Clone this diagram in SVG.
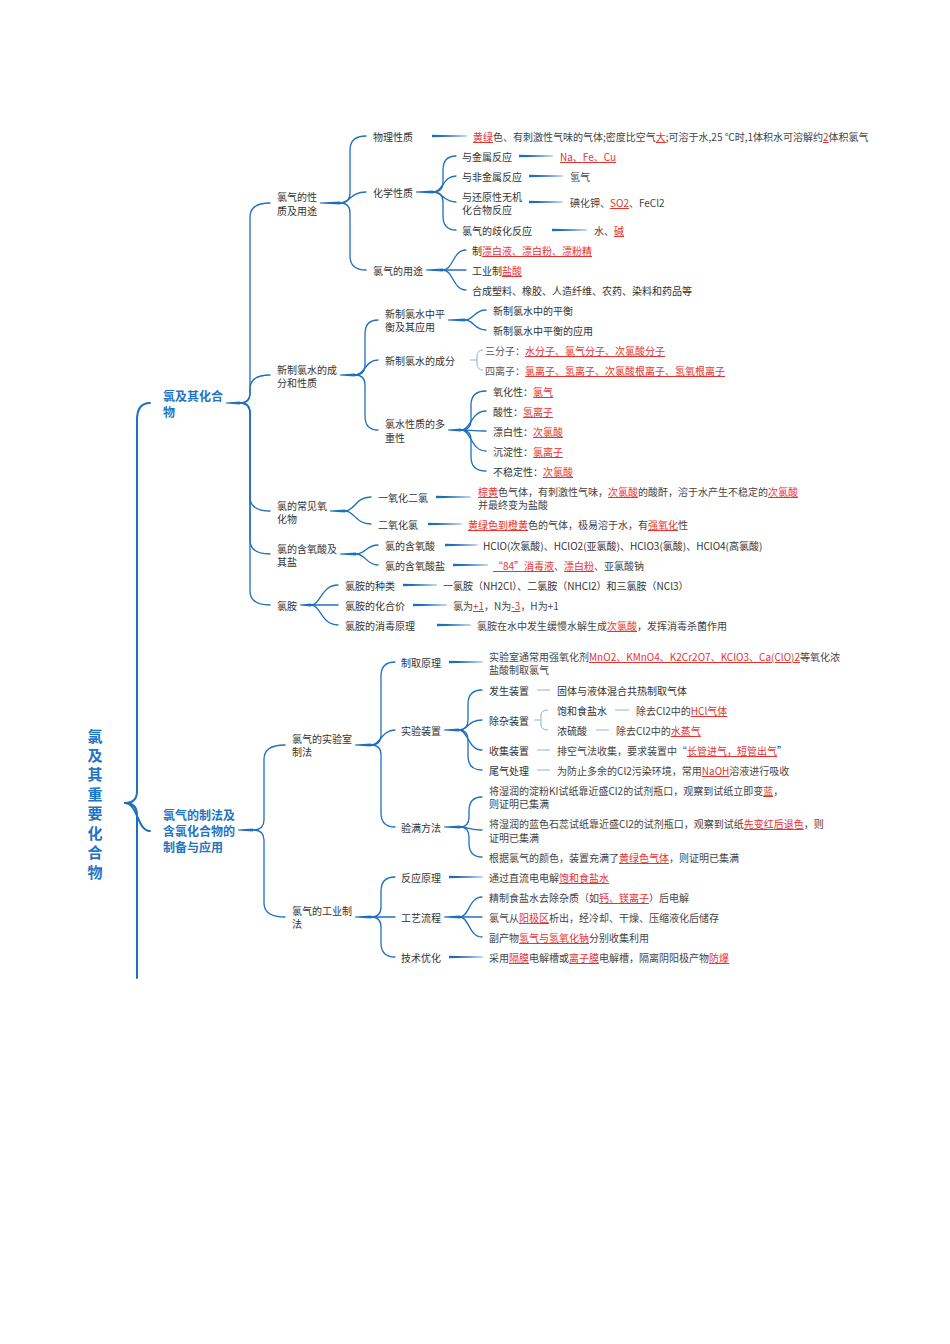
<svg xmlns="http://www.w3.org/2000/svg" width="950" height="1344" viewBox="0 0 950 1344">
<style>
text{font-family:"Noto Sans CJK SC","Noto Sans",sans-serif;font-size:10px;fill:#333;dominant-baseline:central}
.lf{fill:#444}
.g{fill:#555}
.r{fill:#e8322e;text-decoration:underline}
.h1{font-size:12px;font-weight:bold;fill:#1f74c4}
.rt{font-size:15px;font-weight:bold;fill:#1f74c4;text-anchor:middle}
.c{fill:none;stroke:#1f6fbf;stroke-width:1.3;stroke-linecap:round}
.c2{fill:none;stroke:#1f6fbf;stroke-width:2;stroke-linecap:round}
.tp{fill:#1f6fbf}
.lt{fill:none;stroke:#8fb4d8;stroke-width:1}
</style>
<rect width="950" height="1344" fill="#fff"/>
<g id="connectors">
<path class="c2" d="M125 803 Q137 803 137 791 L137 420 Q137 403 150 403"/>
<path class="c2" d="M125 803 C138 803 137 831 150 831"/>
<path class="c2" d="M125 803 Q137 803 137 815 L137 978"/>
<polygon class="tp" points="226,402.5 240,401.4 240,404.6 226,403.5"/>
<path class="c" d="M240 403 Q250 403 250 393 L250 217 Q250 203 270 203"/>
<path class="c" d="M240 403 Q250 403 250 393 L250 389 Q250 375 270 375"/>
<path class="c" d="M240 403 Q250 403 250 413 L250 497 Q250 511 270 511"/>
<path class="c" d="M240 403 Q250 403 250 413 L250 540 Q250 554 270 554"/>
<path class="c" d="M240 403 Q250 403 250 413 L250 591 Q250 605 270 605"/>
<polygon class="tp" points="320,202.5 340,201.4 340,204.6 320,203.5"/>
<path class="c" d="M340 203 Q350 203 350 193 L350 150 Q350 136 366 136"/>
<path class="c" d="M340 203 C350 203 350 192 366 192"/>
<path class="c" d="M340 203 Q350 203 350 213 L350 256 Q350 270 366 270"/>
<polygon class="tp" points="432,134.8 467,135.7 467,136.3 432,137.2"/>
<polygon class="tp" points="416,191.5 433,190.4 433,193.6 416,192.5"/>
<path class="c" d="M433 192 Q443 192 443 182 L443 170 Q443 156 456 156"/>
<path class="c" d="M433 192 C443 192 443 176 456 176"/>
<path class="c" d="M433 192 C443 192 443 202 456 202"/>
<path class="c" d="M433 192 Q443 192 443 202 L443 216 Q443 230 456 230"/>
<polygon class="tp" points="519,154.8 553,155.7 553,156.3 519,157.2"/>
<polygon class="tp" points="529,174.8 563,175.7 563,176.3 529,177.2"/>
<polygon class="tp" points="529,200.8 563,201.7 563,202.3 529,203.2"/>
<polygon class="tp" points="552,228.8 587,229.7 587,230.3 552,231.2"/>
<polygon class="tp" points="426,269.5 443,268.4 443,271.6 426,270.5"/>
<path class="c" d="M443 270 C453 270 453 250 466 250"/>
<path class="c" d="M443 270 L466 270"/>
<path class="c" d="M443 270 C453 270 453 290 466 290"/>
<polygon class="tp" points="340,374.5 355,373.4 355,376.6 340,375.5"/>
<path class="c" d="M355 375 Q365 375 365 365 L365 334 Q365 320 378 320"/>
<path class="c" d="M355 375 C365 375 365 360 378 360"/>
<path class="c" d="M355 375 Q365 375 365 385 L365 416 Q365 430 378 430"/>
<polygon class="tp" points="448,319.5 465,318.4 465,321.6 448,320.5"/>
<path class="c" d="M465 320 C474 320 474 310 486 310"/>
<path class="c" d="M465 320 C474 320 474 330 486 330"/>
<path class="lt" d="M470 360 H477 M483 350 Q477 350 477 356 V364 Q477 370 483 370"/>
<polygon class="tp" points="448,429.5 461,428.4 461,431.6 448,430.5"/>
<path class="c" d="M461 430 Q471 430 471 420 L471 405 Q471 391 486 391"/>
<path class="c" d="M461 430 C471 430 471 411 486 411"/>
<path class="c" d="M461 430 C471 430 471 431 486 431"/>
<path class="c" d="M461 430 C471 430 471 451 486 451"/>
<path class="c" d="M461 430 Q471 430 471 440 L471 457 Q471 471 486 471"/>
<polygon class="tp" points="330,510.5 345,509.4 345,512.6 330,511.5"/>
<path class="c" d="M345 511 C355 511 355 497 371 497"/>
<path class="c" d="M345 511 C355 511 355 524 371 524"/>
<polygon class="tp" points="436,495.8 471,496.7 471,497.3 436,498.2"/>
<polygon class="tp" points="428,522.8 462,523.7 462,524.3 428,525.2"/>
<polygon class="tp" points="340,553.5 356,552.4 356,555.6 340,554.5"/>
<path class="c" d="M356 554 C366 554 366 545 378 545"/>
<path class="c" d="M356 554 C366 554 366 565 378 565"/>
<polygon class="tp" points="445,543.8 478,544.7 478,545.3 445,546.2"/>
<polygon class="tp" points="453,563.8 488,564.7 488,565.3 453,566.2"/>
<polygon class="tp" points="300,604.5 311,603.4 311,606.6 300,605.5"/>
<path class="c" d="M311 605 C321 605 321 585 338 585"/>
<path class="c" d="M311 605 L338 605"/>
<path class="c" d="M311 605 C321 605 321 625 338 625"/>
<polygon class="tp" points="403,583.8 437,584.7 437,585.3 403,586.2"/>
<polygon class="tp" points="413,603.8 447,604.7 447,605.3 413,606.2"/>
<polygon class="tp" points="437,623.8 471,624.7 471,625.3 437,626.2"/>
<polygon class="tp" points="238,829.5 253,828.4 253,831.6 238,830.5"/>
<path class="c" d="M253 830 Q264 830 264 820 L264 759 Q264 745 285 745"/>
<path class="c" d="M253 830 Q264 830 264 840 L264 903 Q264 917 285 917"/>
<polygon class="tp" points="355,744.5 371,743.4 371,746.6 355,745.5"/>
<path class="c" d="M371 745 Q381 745 381 735 L381 676 Q381 662 395 662"/>
<path class="c" d="M371 745 C381 745 381 730 395 730"/>
<path class="c" d="M371 745 Q381 745 381 755 L381 813 Q381 827 395 827"/>
<polygon class="tp" points="449,660.8 483,661.7 483,662.3 449,663.2"/>
<polygon class="tp" points="444,729.5 459,728.4 459,731.6 444,730.5"/>
<path class="c" d="M459 730 Q468 730 468 720 L468 704 Q468 690 482 690"/>
<path class="c" d="M459 730 C468 730 468 720 482 720"/>
<path class="c" d="M459 730 C468 730 468 750 482 750"/>
<path class="c" d="M459 730 Q468 730 468 740 L468 756 Q468 770 482 770"/>
<path class="lt" d="M537 690 H550 M537 750 H550 M537 770 H550"/>
<path class="lt" d="M534 720 H541 M548 710 Q541 710 541 715 V725 Q541 730 548 730"/>
<path class="lt" d="M615 710 H629 M596 730 H609"/>
<polygon class="tp" points="444,826.5 460,825.4 460,828.6 444,827.5"/>
<path class="c" d="M460 827 Q469 827 469 817 L469 811 Q469 797 482 797"/>
<path class="c" d="M460 827 C469 827 469 830 482 830"/>
<path class="c" d="M460 827 Q469 827 469 837 L469 843 Q469 857 482 857"/>
<polygon class="tp" points="355,916.5 371,915.4 371,918.6 355,917.5"/>
<path class="c" d="M371 917 Q381 917 381 907 L381 891 Q381 877 395 877"/>
<path class="c" d="M371 917 L395 917"/>
<path class="c" d="M371 917 Q381 917 381 927 L381 943 Q381 957 395 957"/>
<polygon class="tp" points="449,875.8 483,876.7 483,877.3 449,878.2"/>
<polygon class="tp" points="449,955.8 483,956.7 483,957.3 449,958.2"/>
<polygon class="tp" points="444,916.5 460,915.4 460,918.6 444,917.5"/>
<path class="c" d="M460 917 C469 917 469 897 482 897"/>
<path class="c" d="M460 917 L482 917"/>
<path class="c" d="M460 917 C469 917 469 937 482 937"/>
</g>
<g id="root"><text class="rt"><tspan x="95" y="735">氯</tspan><tspan x="95" y="754">及</tspan><tspan x="95" y="773">其</tspan><tspan x="95" y="793">重</tspan><tspan x="95" y="812">要</tspan><tspan x="95" y="832">化</tspan><tspan x="95" y="851">合</tspan><tspan x="95" y="871">物</tspan></text></g>
<g id="n-A"><text class="h1"><tspan x="163" y="395">氯及其化合</tspan><tspan x="163" y="411">物</tspan></text></g>
<g id="n-B1"><text><tspan x="277" y="196">氯气的性</tspan><tspan x="277" y="210">质及用途</tspan></text></g>
<g id="n-wl"><text x="373" y="136">物理性质</text></g>
<g id="l-wl"><text class="lf" x="473" y="136"><tspan class="r">黄绿</tspan>色、有刺激性气味的气体;密度比空气<tspan class="r">大</tspan>;可溶于水,25 ℃时,1体积水可溶解约<tspan class="r">2</tspan>体积氯气</text></g>
<g id="n-hx"><text x="373" y="192">化学性质</text></g>
<g id="n-hx1"><text x="462" y="156">与金属反应</text></g>
<g id="l-hx1"><text class="lf" x="560" y="156"><tspan class="r">Na、Fe、Cu</tspan></text></g>
<g id="n-hx2"><text x="462" y="176">与非金属反应</text></g>
<g id="l-hx2"><text class="lf" x="570" y="176">氢气</text></g>
<g id="n-hx3"><text><tspan x="462" y="196">与还原性无机</tspan><tspan x="462" y="209">化合物反应</tspan></text></g>
<g id="l-hx3"><text class="lf" x="570" y="202">碘化钾、<tspan class="r">SO2</tspan>、FeCl2</text></g>
<g id="n-hx4"><text x="462" y="230">氯气的歧化反应</text></g>
<g id="l-hx4"><text class="lf" x="594" y="230">水、<tspan class="r">碱</tspan></text></g>
<g id="n-yt"><text x="373" y="270">氯气的用途</text></g>
<g id="l-yt1"><text x="472" y="250">制<tspan class="r">漂白液、漂白粉、漂粉精</tspan></text></g>
<g id="l-yt2"><text x="472" y="270">工业制<tspan class="r">盐酸</tspan></text></g>
<g id="l-yt3"><text x="472" y="290">合成塑料、橡胶、人造纤维、农药、染料和药品等</text></g>
<g id="n-B2"><text><tspan x="277" y="369">新制氯水的成</tspan><tspan x="277" y="382">分和性质</tspan></text></g>
<g id="n-ph"><text><tspan x="385" y="313">新制氯水中平</tspan><tspan x="385" y="326">衡及其应用</tspan></text></g>
<g id="l-ph1"><text x="493" y="310">新制氯水中的平衡</text></g>
<g id="l-ph2"><text x="493" y="330">新制氯水中平衡的应用</text></g>
<g id="n-cf"><text x="385" y="360">新制氯水的成分</text></g>
<g id="l-cf1"><text class="g" x="485" y="350">三分子：<tspan class="r">水分子、氯气分子、次氯酸分子</tspan></text></g>
<g id="l-cf2"><text class="g" x="485" y="370">四离子：<tspan class="r">氯离子、氢离子、次氯酸根离子、氢氧根离子</tspan></text></g>
<g id="n-dc"><text><tspan x="385" y="423">氯水性质的多</tspan><tspan x="385" y="437">重性</tspan></text></g>
<g id="l-dc1"><text x="493" y="391">氧化性：<tspan class="r">氯气</tspan></text></g>
<g id="l-dc2"><text x="493" y="411">酸性：<tspan class="r">氢离子</tspan></text></g>
<g id="l-dc3"><text x="493" y="431">漂白性：<tspan class="r">次氯酸</tspan></text></g>
<g id="l-dc4"><text x="493" y="451">沉淀性：<tspan class="r">氯离子</tspan></text></g>
<g id="l-dc5"><text x="493" y="471">不稳定性：<tspan class="r">次氯酸</tspan></text></g>
<g id="n-B3"><text><tspan x="277" y="505">氯的常见氧</tspan><tspan x="277" y="518">化物</tspan></text></g>
<g id="n-yy"><text x="378" y="497">一氧化二氯</text></g>
<g id="l-yy"><text class="lf"><tspan x="478" y="491"><tspan class="r">棕黄</tspan>色气体，有刺激性气味，<tspan class="r">次氯酸</tspan>的酸酐，溶于水产生不稳定的<tspan class="r">次氯酸</tspan></tspan><tspan x="478" y="504">并最终变为盐酸</tspan></text></g>
<g id="n-ey"><text x="378" y="524">二氧化氯</text></g>
<g id="l-ey"><text class="lf" x="468" y="524"><tspan class="r">黄绿色到橙黄</tspan>色的气体，极易溶于水，有<tspan class="r">强氧化</tspan>性</text></g>
<g id="n-B4"><text><tspan x="277" y="548">氯的含氧酸及</tspan><tspan x="277" y="561">其盐</tspan></text></g>
<g id="n-hys"><text x="385" y="545">氯的含氧酸</text></g>
<g id="l-hys"><text x="483" y="545">HClO(次氯酸)、HClO2(亚氯酸)、HClO3(氯酸)、HClO4(高氯酸)</text></g>
<g id="n-hyy"><text x="385" y="565">氯的含氧酸盐</text></g>
<g id="l-hyy"><text class="lf" x="493" y="565"><tspan class="r">“84”消毒液</tspan>、<tspan class="r">漂白粉</tspan>、亚氯酸钠</text></g>
<g id="n-B5"><text x="277" y="605">氯胺</text></g>
<g id="n-la1"><text x="345" y="585">氯胺的种类</text></g>
<g id="l-la1"><text x="443" y="585">一氯胺（NH2Cl）、二氯胺（NHCl2）和三氯胺（NCl3）</text></g>
<g id="n-la2"><text x="345" y="605">氯胺的化合价</text></g>
<g id="l-la2"><text class="lf" x="453" y="605">氯为<tspan class="r">+1</tspan>，N为<tspan class="r">-3</tspan>，H为+1</text></g>
<g id="n-la3"><text x="345" y="625">氯胺的消毒原理</text></g>
<g id="l-la3"><text class="lf" x="477" y="625">氯胺在水中发生缓慢水解生成<tspan class="r">次氯酸</tspan>，发挥消毒杀菌作用</text></g>
<g id="n-C"><text class="h1"><tspan x="163" y="814">氯气的制法及</tspan><tspan x="163" y="830">含氯化合物的</tspan><tspan x="163" y="846">制备与应用</tspan></text></g>
<g id="n-C1"><text><tspan x="292" y="738">氯气的实验室</tspan><tspan x="292" y="751">制法</tspan></text></g>
<g id="n-zq"><text x="401" y="662">制取原理</text></g>
<g id="l-zq"><text class="lf"><tspan x="489" y="656">实验室通常用强氧化剂<tspan class="r">MnO2、KMnO4、K2Cr2O7、KClO3、Ca(ClO)2</tspan>等氧化浓</tspan><tspan x="489" y="669">盐酸制取氯气</tspan></text></g>
<g id="n-sy"><text x="401" y="730">实验装置</text></g>
<g id="n-fs"><text x="489" y="690">发生装置</text></g>
<g id="l-fs"><text x="557" y="690">固体与液体混合共热制取气体</text></g>
<g id="n-cz"><text x="489" y="720">除杂装置</text></g>
<g id="n-bh"><text x="557" y="710">饱和食盐水</text></g>
<g id="l-bh"><text class="lf" x="636" y="710">除去Cl2中的<tspan class="r">HCl气体</tspan></text></g>
<g id="n-nl"><text x="557" y="730">浓硫酸</text></g>
<g id="l-nl"><text class="lf" x="616" y="730">除去Cl2中的<tspan class="r">水蒸气</tspan></text></g>
<g id="n-sj"><text x="489" y="750">收集装置</text></g>
<g id="l-sj"><text class="lf" x="557" y="750">排空气法收集，要求装置中“<tspan class="r">长管进气，短管出气</tspan>”</text></g>
<g id="n-wq"><text x="489" y="770">尾气处理</text></g>
<g id="l-wq"><text class="lf" x="557" y="770">为防止多余的Cl2污染环境，常用<tspan class="r">NaOH</tspan>溶液进行吸收</text></g>
<g id="n-ym"><text x="401" y="827">验满方法</text></g>
<g id="l-ym1"><text class="lf"><tspan x="489" y="790">将湿润的淀粉KI试纸靠近盛Cl2的试剂瓶口，观察到试纸立即变<tspan class="r">蓝</tspan>，</tspan><tspan x="489" y="803">则证明已集满</tspan></text></g>
<g id="l-ym2"><text class="lf"><tspan x="489" y="823">将湿润的蓝色石蕊试纸靠近盛Cl2的试剂瓶口，观察到试纸<tspan class="r">先变红后退色</tspan>，则</tspan><tspan x="489" y="837">证明已集满</tspan></text></g>
<g id="l-ym3"><text class="lf" x="489" y="857">根据氯气的颜色，装置充满了<tspan class="r">黄绿色气体</tspan>，则证明已集满</text></g>
<g id="n-C2"><text><tspan x="292" y="910">氯气的工业制</tspan><tspan x="292" y="923">法</tspan></text></g>
<g id="n-fy"><text x="401" y="877">反应原理</text></g>
<g id="l-fy"><text class="lf" x="489" y="877">通过直流电电解<tspan class="r">饱和食盐水</tspan></text></g>
<g id="n-gy"><text x="401" y="917">工艺流程</text></g>
<g id="l-gy1"><text class="lf" x="489" y="897">精制食盐水去除杂质（如<tspan class="r">钙、镁离子</tspan>）后电解</text></g>
<g id="l-gy2"><text class="lf" x="489" y="917">氯气从<tspan class="r">阳极区</tspan>析出，经冷却、干燥、压缩液化后储存</text></g>
<g id="l-gy3"><text class="lf" x="489" y="937">副产物<tspan class="r">氢气与氢氧化钠</tspan>分别收集利用</text></g>
<g id="n-js"><text x="401" y="957">技术优化</text></g>
<g id="l-js"><text class="lf" x="489" y="957">采用<tspan class="r">隔膜</tspan>电解槽或<tspan class="r">离子膜</tspan>电解槽，隔离阴阳极产物<tspan class="r">防爆</tspan></text></g>
</svg>
